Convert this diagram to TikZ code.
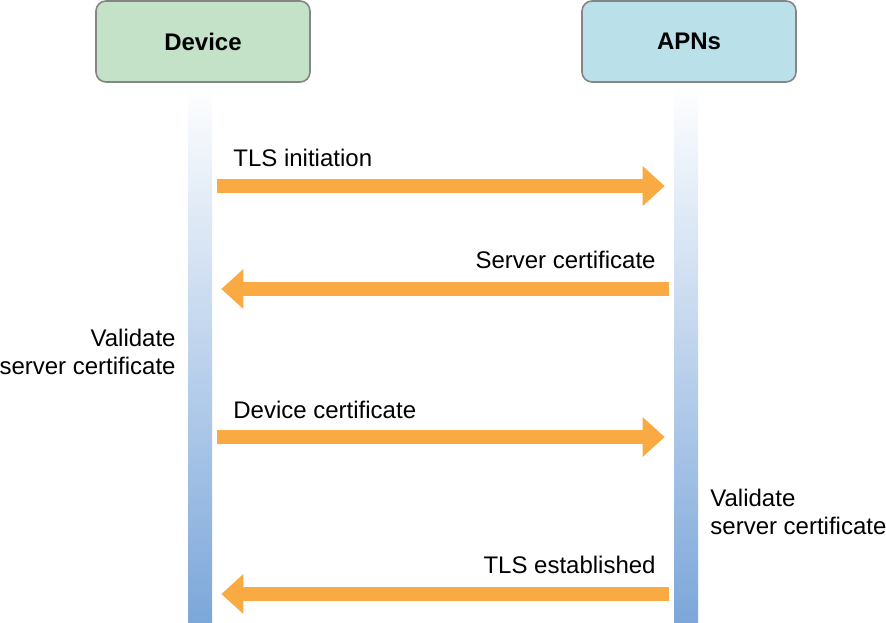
\documentclass[tikz,border=0pt]{standalone}
\usepackage{fontspec}
\setmainfont{Liberation Sans}
\usetikzlibrary{arrows.meta}
\definecolor{devgreen}{HTML}{C3E2C8}
\definecolor{apnsblue}{HTML}{BAE0EA}
\definecolor{boxgray}{HTML}{858585}
\definecolor{lineblue}{HTML}{7CA7DA}
\definecolor{msgorange}{HTML}{F9AA43}
\begin{document}
\begin{tikzpicture}[x=0.5pt,y=-0.5pt,font=\fontsize{12}{14}\selectfont,
	party/.style={draw=boxgray,line width=0.8pt,rounded corners=5pt,minimum width=107pt,minimum height=40.5pt,inner sep=0pt,font=\fontsize{12}{14}\selectfont\bfseries},
	lifeline/.style={inner sep=0pt,minimum width=12pt,minimum height=269pt,top color=white,bottom color=lineblue},
	msg/.style={draw=msgorange,line width=7pt,-{Triangle[width=20pt,length=11pt,line width=0pt]},shorten <=2.5pt,shorten >=4.5pt},
	msglabel/.style={inner sep=0pt}]
	\useasboundingbox (0,0) rectangle (886,622);
	\coordinate (tls) at (0,186);
	\coordinate (srvcert) at (0,289);
	\coordinate (devcert) at (0,437);
	\coordinate (done) at (0,594);
	
	\node[lifeline] (devline) at (200,353) {};
	\node[lifeline] (apnline) at (686,353) {};
	\node[party,fill=devgreen] (device) at (203,41.5) {Device};
	\node[party,fill=apnsblue] (apns) at (689,41.5) {APNs};
	
	\draw[msg] (devline.east |- tls) -- (apnline.west |- tls);
	\draw[msg] (apnline.west |- srvcert) -- (devline.east |- srvcert);
	\draw[msg] (devline.east |- devcert) -- (apnline.west |- devcert);
	\draw[msg] (apnline.west |- done) -- (devline.east |- done);
	
	\node[msglabel,anchor=base west] (tlslabel) at (233,166) {TLS initiation};
	\node[msglabel,anchor=base east] (srvlabel) at (656,268) {Server certificate};
	\node[msglabel,anchor=base west] (devlabel) at (233,418) {Device certificate};
	\node[msglabel,anchor=base east] (donelabel) at (656,573) {TLS established};
	\node[msglabel,anchor=east,align=right] (devcheck) at (176,352) {Validate\\server certificate};
	\node[msglabel,anchor=west,align=left] (apncheck) at (710,512) {Validate\\server certificate};
\end{tikzpicture}
\end{document}
